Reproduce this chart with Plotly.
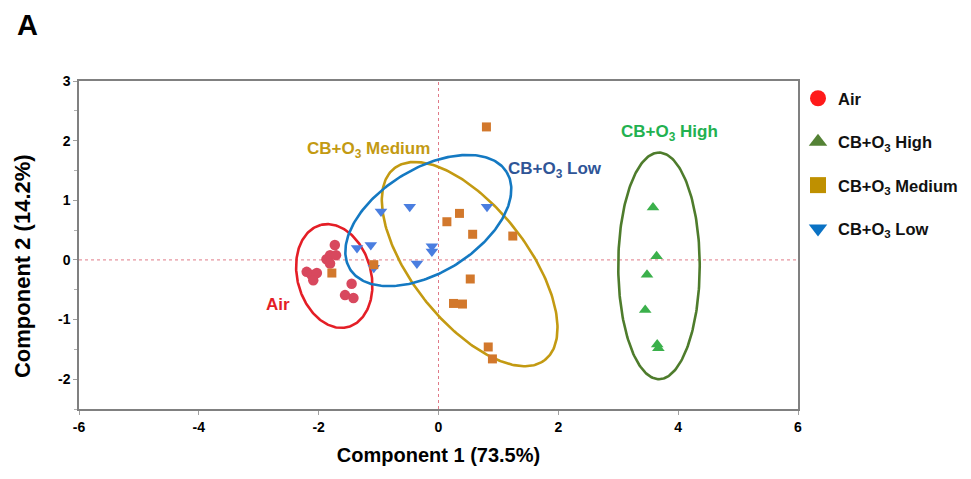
import numpy as np
import plotly.graph_objects as go

# ---- data ----
air_x = [-1.73, -1.81, -1.71, -1.87, -1.81, -2.20, -2.12, -2.03, -2.09, -1.45, -1.56, -1.42]
air_y = [0.25, 0.08, 0.08, 0.01, -0.06, -0.20, -0.25, -0.22, -0.34, -0.40, -0.59, -0.64]

high_x = [3.58, 3.64, 3.48, 3.45, 3.65, 3.67]
high_y = [0.88, 0.06, -0.25, -0.84, -1.42, -1.48]

med_x = [0.80, 0.14, 0.35, 0.57, 1.24, -1.08, -1.78, 0.53, 0.25, 0.40, 0.83, 0.90]
med_y = [2.23, 0.64, 0.78, 0.43, 0.40, -0.08, -0.22, -0.32, -0.73, -0.74, -1.46, -1.66]

low_x = [-0.96, -0.48, 0.81, -0.11, -0.11, -0.36, -1.36, -1.13, -1.08]
low_y = [0.81, 0.89, 0.89, 0.23, 0.14, -0.06, 0.20, 0.25, -0.13]

# confidence ellipses: centre, semi-axes, rotation (deg)
ell_names = ["Air", "High", "Medium", "Low"]
ell_cx = [-1.74, 3.68, 0.52, -0.17]
ell_cy = [-0.27, -0.10, -0.07, 0.66]
ell_a = [0.885, 1.90, 2.04, 1.54]
ell_b = [0.615, 0.68, 0.96, 0.87]
ell_deg = [105, 90, -52, 32]
ell_colors = ["#E41E26", "#4E7C2C", "#C39A12", "#1479C2"]

x_ticks = [-6, -4, -2, 0, 2, 4, 6]
x_ticktext = ["-6", "-4", "-2", "0", "2", "4", "6"]
y_ticks = [-2, -1, 0, 1, 2, 3]
y_ticktext = ["-2", "-1", "0", "1", "2", "3"]

FONT = "Liberation Sans, Arial, sans-serif"

fig = go.Figure()

# reference lines through origin
fig.add_shape(type="line", x0=0, x1=0, y0=-2.5, y1=3, xref="x", yref="y",
              line=dict(color="#E07A88", width=1, dash="dot"), layer="below")
fig.add_shape(type="line", x0=-6, x1=6, y0=0, y1=0, xref="x", yref="y",
              line=dict(color="#E07A88", width=1, dash="dot"), layer="below")

# ellipses
t = np.linspace(0, 2 * np.pi, 241)
for name, cx, cy, a, b, d, c in zip(ell_names, ell_cx, ell_cy, ell_a, ell_b, ell_deg, ell_colors):
    th = np.deg2rad(d)
    ex = cx + a * np.cos(t) * np.cos(th) - b * np.sin(t) * np.sin(th)
    ey = cy + a * np.cos(t) * np.sin(th) + b * np.sin(t) * np.cos(th)
    fig.add_trace(go.Scatter(x=ex, y=ey, mode="lines", line=dict(color=c, width=2.6),
                             showlegend=False, hoverinfo="skip"))

# data points
fig.add_trace(go.Scatter(x=air_x, y=air_y, mode="markers", showlegend=False,
                         marker=dict(symbol="circle", size=10.5, color="#D8485E")))
fig.add_trace(go.Scatter(x=high_x, y=high_y, mode="markers", showlegend=False,
                         marker=dict(symbol="triangle-up", size=11, color="#3BB04B")))
fig.add_trace(go.Scatter(x=low_x, y=low_y, mode="markers", showlegend=False,
                         marker=dict(symbol="triangle-down", size=11, color="#4A7EE0")))
fig.add_trace(go.Scatter(x=med_x, y=med_y, mode="markers", showlegend=False,
                         marker=dict(symbol="square", size=9, color="#D2782C")))

# legend entries
leg = [("Air", "circle", "#FF1A1A"),
       ("CB+O<sub>3</sub> High", "triangle-up", "#548235"),
       ("CB+O<sub>3</sub> Medium", "square", "#BF9000"),
       ("CB+O<sub>3</sub> Low", "triangle-down", "#0A72C4")]
for i, (nm, sym, col) in enumerate(leg):
    fig.add_trace(go.Scatter(x=[None], y=[None], mode="markers", name=nm,
                             legendgroup=f"g{i}",
                             marker=dict(symbol=sym, size=22, color=col)))

# group labels
labels = [("Air", -2.68, -0.74, "#E41E26"),
          ("CB+O<sub>3</sub> Medium", -1.17, 1.84, "#C39A12"),
          ("CB+O<sub>3</sub> Low", 1.95, 1.51, "#2F5597"),
          ("CB+O<sub>3</sub> High", 3.85, 2.13, "#22B150")]
for txt, lx, ly, col in labels:
    fig.add_annotation(x=lx, y=ly, xref="x", yref="y", text=txt, showarrow=False,
                       font=dict(family=FONT, size=17, color=col, weight="bold"))

# panel letter
fig.add_annotation(x=-0.0723, y=1.172, xref="paper", yref="paper", text="A",
                   showarrow=False, xanchor="center", yanchor="middle",
                   font=dict(family=FONT, size=29, color="black", weight="bold"))

# y-axis title (placed as in the reference, slightly below the axis centre)
fig.add_annotation(x=-0.0778, y=0.436, xref="paper", yref="paper",
                   text="Component 2 (14.2%)", textangle=-90, showarrow=False,
                   xanchor="center", yanchor="middle",
                   font=dict(family=FONT, size=22, color="black", weight="bold"))

fig.update_layout(
    width=971, height=479,
    margin=dict(l=71, r=181, t=73, b=78),
    paper_bgcolor="white", plot_bgcolor="white",
    font=dict(family=FONT, color="black"),
    legend=dict(x=1.0, xanchor="left", y=1.0, yanchor="top", tracegroupgap=19,
                font=dict(family=FONT, size=16.5, color="#111", weight="bold"),
                bgcolor="rgba(0,0,0,0)"),
    xaxis=dict(range=[-6, 6], tickvals=x_ticks, ticktext=x_ticktext, ticks="outside",
               ticklen=4, tickcolor="#A0A0A0", showline=True, mirror=True,
               linecolor="#808080", linewidth=1.5, showgrid=False, zeroline=False,
               automargin=False,
               tickfont=dict(family=FONT, size=14, color="black", weight="bold"),
               title=dict(text="Component 1 (73.5%)", standoff=14,
                          font=dict(family=FONT, size=20, color="black", weight="bold"))),
    yaxis=dict(range=[-2.5, 3], tickvals=y_ticks, ticktext=y_ticktext, ticks="outside",
               ticklen=4, tickcolor="#A0A0A0", showline=True, mirror=True,
               linecolor="#808080", linewidth=1.5, showgrid=False, zeroline=False,
               automargin=False,
               minor=dict(dtick=0.5, ticks="outside", ticklen=3, tickcolor="#B0B0B0"),
               tickfont=dict(family=FONT, size=14, color="black", weight="bold")),
)

fig.write_html("out.html")
